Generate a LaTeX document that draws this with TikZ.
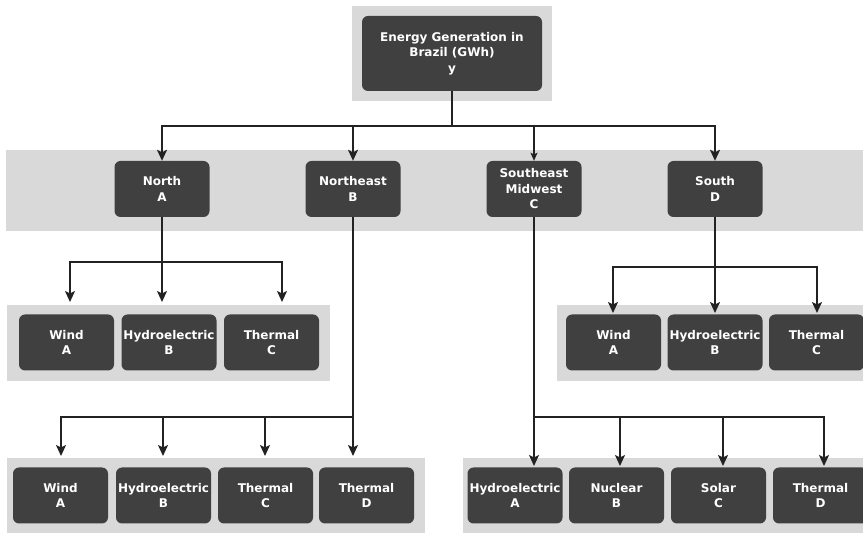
\documentclass[tikz,border=0pt]{standalone}
\usepackage{fontspec}
\setmainfont{DejaVu Sans}
\usetikzlibrary{arrows.meta}
\definecolor{nodegray}{HTML}{404040}
\definecolor{bandgray}{HTML}{D9D9D9}
\definecolor{linegray}{HTML}{222222}
\begin{document}
\begin{tikzpicture}[x=1pt,y=-1pt,
  box/.style={fill=nodegray, rounded corners=6pt, minimum width=95pt, minimum height=56pt,
    inner sep=0pt, align=center, text=white, font=\fontsize{12}{15.5}\selectfont\bfseries},
  link/.style={draw=linegray, line width=1.8pt},
  arr/.style={link, -{Stealth[length=11pt,width=10pt,inset=2.5pt]}},
  smallarr/.style={link, line width=1.3pt, -{Stealth[length=8pt,width=7pt,inset=1.5pt]}}]
\useasboundingbox (0,0) rectangle (863,534);
% bands
\fill[bandgray] (352,6) rectangle (552,101);
\fill[bandgray] (6,150) rectangle (863,231);
\fill[bandgray] (7,305) rectangle (330,381);
\fill[bandgray] (557,305) rectangle (863,381);
\fill[bandgray] (7,458) rectangle (425,533);
\fill[bandgray] (463,458) rectangle (863,533);
% nodes
\node[box, minimum width=180pt, minimum height=75pt] (top) at (452,53.5) {Energy Generation in\\Brazil (GWh)\\y};
\node[box] (north) at (162,189) {North\\A};
\node[box] (northeast) at (353,189) {Northeast\\B};
\node[box] (southeast) at (534,189) {Southeast\\Midwest\\C};
\node[box] (south) at (715,189) {South\\D};
\node[box] (lw) at (66.5,342.5) {Wind\\A};
\node[box] (lh) at (169,342.5) {Hydroelectric\\B};
\node[box] (lt) at (271.5,342.5) {Thermal\\C};
\node[box] (rw) at (613.5,342.5) {Wind\\A};
\node[box] (rh) at (715,342.5) {Hydroelectric\\B};
\node[box] (rt) at (816.5,342.5) {Thermal\\C};
\node[box] (bw) at (60.5,495.5) {Wind\\A};
\node[box] (bh) at (163.5,495.5) {Hydroelectric\\B};
\node[box] (btc) at (265.5,495.5) {Thermal\\C};
\node[box] (btd) at (366.5,495.5) {Thermal\\D};
\node[box] (sh) at (515,495.5) {Hydroelectric\\A};
\node[box] (sn) at (616.5,495.5) {Nuclear\\B};
\node[box] (ss) at (718.5,495.5) {Solar\\C};
\node[box] (st) at (820.5,495.5) {Thermal\\D};
% top level connectors
\coordinate (tj) at (452,126);
\draw[link] (top) -- (tj);
\draw[arr] (tj) -| (north);
\draw[arr] (tj) -| (northeast);
\draw[smallarr] (tj) -| (southeast);
\draw[arr] (tj) -| (south);
% North
\coordinate (nj) at (162,262);
\coordinate (n1) at (70,302);
\coordinate (n2) at (162,302);
\coordinate (n3) at (282,302);
\draw[link] (north) -- (nj);
\draw[arr] (nj) -| (n1);
\draw[arr] (nj) -- (n2);
\draw[arr] (nj) -| (n3);
% Northeast
\coordinate (ej) at (353,417);
\coordinate (e1) at (61,456);
\coordinate (e2) at (163,456);
\coordinate (e3) at (265,456);
\coordinate (e4) at (353,456);
\draw[link] (northeast) -- (ej);
\draw[arr] (ej) -| (e1);
\draw[arr] (ej) -| (e2);
\draw[arr] (ej) -| (e3);
\draw[arr] (ej) -- (e4);
% Southeast
\coordinate (sj) at (534,417);
\coordinate (s1) at (534,466);
\coordinate (s2) at (620,466);
\coordinate (s3) at (723,466);
\coordinate (s4) at (824,466);
\draw[link] (southeast) -- (sj);
\draw[arr] (sj) -- (s1);
\draw[arr] (sj) -| (s2);
\draw[arr] (sj) -| (s3);
\draw[arr] (sj) -| (s4);
% South
\coordinate (oj) at (715,267);
\coordinate (o1) at (613,313);
\coordinate (o2) at (715,313);
\coordinate (o3) at (817,313);
\draw[link] (south) -- (oj);
\draw[arr] (oj) -| (o1);
\draw[arr] (oj) -- (o2);
\draw[arr] (oj) -| (o3);
\end{tikzpicture}
\end{document}
